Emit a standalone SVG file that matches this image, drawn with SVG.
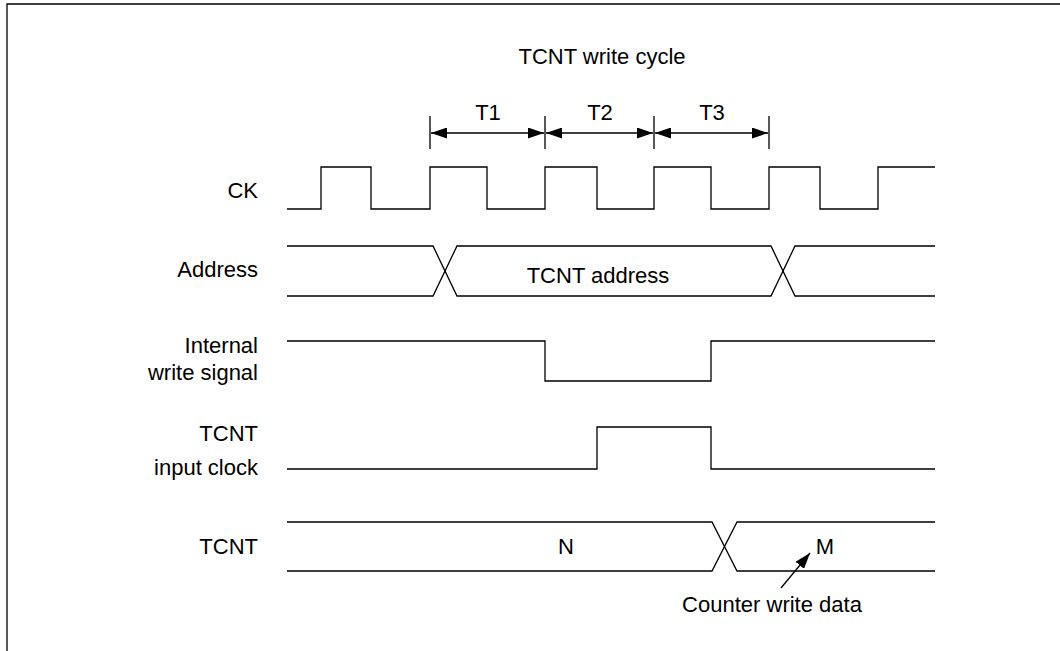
<svg xmlns="http://www.w3.org/2000/svg" width="1060" height="651" viewBox="0 0 1060 651">
<style>
  .w { fill: none; stroke: #000; stroke-width: 1.3; }
  .t { font-family: "Liberation Sans", Arial, sans-serif; font-size: 22px; fill: #000; }
  .r { text-anchor: end; }
  .c { text-anchor: middle; }
</style>
<defs>
  <marker id="ah" markerWidth="16" markerHeight="11" refX="16" refY="5.5" orient="auto-start-reverse" markerUnits="userSpaceOnUse">
    <path d="M0,0 L16,5.5 L0,11 Z" fill="#000"/>
  </marker>
</defs>
<rect width="1060" height="651" fill="#fff"/>
<g id="frame">
  <path class="w" d="M7,651 V4 H1060" stroke-width="1.5"/>
</g>
<g id="title"><text class="t c" x="602" y="64">TCNT write cycle</text></g>
<g id="labels">
  <text class="t r" x="258" y="198">CK</text>
  <text class="t r" x="258" y="277">Address</text>
  <text class="t r" x="258" y="353">Internal</text>
  <text class="t r" x="258" y="380">write signal</text>
  <text class="t r" x="258" y="441">TCNT</text>
  <text class="t r" x="258" y="475">input clock</text>
  <text class="t r" x="258" y="554">TCNT</text>
</g>
<g id="periods">
  <path class="w" d="M430,116 V149 M545,116 V149 M654,116 V149 M769,116 V149"/>
  <text class="t c" x="488" y="120">T1</text>
  <text class="t c" x="600" y="120">T2</text>
  <text class="t c" x="712" y="120">T3</text>
</g>
<g id="connectors">
  <line class="w" x1="781" y1="588" x2="810" y2="553" marker-end="url(#ah)"/>
  <line class="w" x1="431" y1="133" x2="544" y2="133" marker-start="url(#ah)" marker-end="url(#ah)"/>
  <line class="w" x1="546" y1="133" x2="653" y2="133" marker-start="url(#ah)" marker-end="url(#ah)"/>
  <line class="w" x1="655" y1="133" x2="768" y2="133" marker-start="url(#ah)" marker-end="url(#ah)"/>
</g>
<g id="ck">
  <path class="w" d="M287,209 H321 V167 H371 V209 H430 V167 H487 V209 H545 V167 H597 V209 H654 V167 H711 V209 H769 V167 H820 V209 H878 V167 H935"/>
</g>
<g id="address">
  <path class="w" d="M287,246 H433 L457,296 H771 L795,246 H935"/>
  <path class="w" d="M287,296 H433 L457,246 H771 L795,296 H935"/>
  <text class="t c" x="598" y="283">TCNT address</text>
</g>
<g id="write-signal">
  <path class="w" d="M287,341 H545 V381 H711 V341 H935"/>
</g>
<g id="input-clock">
  <path class="w" d="M287,469 H597 V427 H711 V469 H935"/>
</g>
<g id="tcnt">
  <path class="w" d="M287,522 H712 L737,571 H935"/>
  <path class="w" d="M287,571 H712 L737,522 H935"/>
  <text class="t c" x="566" y="554">N</text>
  <text class="t c" x="825" y="554">M</text>
</g>
<g id="note"><text class="t c" x="772" y="612">Counter write data</text></g>
</svg>
